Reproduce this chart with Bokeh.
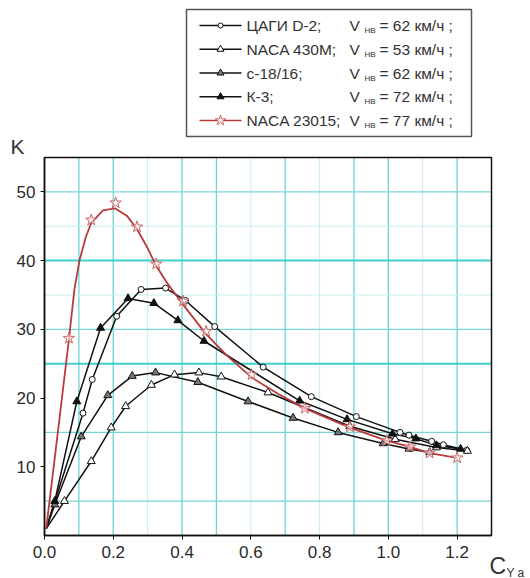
from bokeh.plotting import figure
from bokeh.models import Range1d, FixedTicker, NumeralTickFormatter
from bokeh.core.properties import value
from bokeh.embed import file_html
from bokeh.resources import INLINE

FONT = "Liberation Sans"

# ---------------- data ----------------
series_names = ["ЦАГИ D-2;", "NACA 430M;", "с-18/16;", "К-3;", "NACA 23015;"]
v_speeds = [62, 53, 62, 72, 77]

tsagi_x = [0.005, 0.112, 0.139, 0.21, 0.281, 0.352, 0.41, 0.495, 0.636, 0.776, 0.907, 1.034, 1.06, 1.126, 1.16, 1.228]
tsagi_y = [1.0, 17.8, 22.7, 31.9, 35.8, 36.0, 34.2, 30.4, 24.5, 20.2, 17.3, 15.0, 14.6, 13.7, 13.2, 12.4]

naca430_x = [0.005, 0.058, 0.136, 0.194, 0.236, 0.311, 0.378, 0.449, 0.514, 0.65, 0.888, 1.02, 1.14, 1.23]
naca430_y = [1.0, 5.0, 10.8, 15.7, 18.8, 21.9, 23.4, 23.7, 23.1, 20.8, 15.9, 14.0, 12.8, 12.3]

c18_x = [0.005, 0.03, 0.107, 0.184, 0.255, 0.323, 0.446, 0.592, 0.723, 0.854, 0.985, 1.06, 1.12]
c18_y = [1.0, 4.5, 14.4, 20.4, 23.2, 23.7, 22.3, 19.5, 17.1, 15.0, 13.4, 12.6, 12.1]

k3_x = [0.005, 0.03, 0.094, 0.163, 0.243, 0.318, 0.388, 0.464, 0.742, 0.88, 1.012, 1.08, 1.14, 1.21]
k3_y = [1.0, 5.0, 19.5, 30.2, 34.5, 33.8, 31.3, 28.3, 19.6, 16.9, 14.8, 14.1, 13.1, 12.6]

# NACA 23015: marker points and the traced smooth curve
naca23_x = [0.071, 0.136, 0.207, 0.269, 0.325, 0.403, 0.47, 0.602, 0.757, 0.888, 0.995, 1.063, 1.12, 1.2]
naca23_y = [28.7, 45.9, 48.4, 44.9, 39.5, 34.1, 29.7, 23.4, 18.5, 15.8, 13.8, 12.9, 12.0, 11.3]
naca23_curve_x = [0.005, 0.04, 0.071, 0.087, 0.102, 0.12, 0.136, 0.17, 0.205, 0.24, 0.269, 0.30, 0.325,
                  0.36, 0.403, 0.47, 0.53, 0.602, 0.68, 0.757, 0.888, 0.995, 1.063, 1.12, 1.2]
naca23_curve_y = [1.0, 15.5, 28.5, 35.8, 40.1, 43.4, 45.5, 47.3, 47.6, 46.5, 44.6, 41.8, 39.2,
                  36.5, 33.6, 29.3, 26.2, 23.0, 20.6, 18.5, 15.7, 13.8, 12.9, 12.0, 11.3]

x_min, x_max = 0.0, 1.3
y_min, y_max = 0.0, 55.0
x_ticks = [0.0, 0.2, 0.4, 0.6, 0.8, 1.0, 1.2]
y_ticks = [10, 20, 30, 40, 50]
xgrid_main = [0.1, 0.2, 0.4, 0.5, 0.7, 0.9, 1.0, 1.2]
xgrid_faint = [0.3, 0.6, 0.8, 1.1]
ygrid_bold = [25, 40]
ygrid_main = [5, 15, 30, 50]
ygrid_faint = [35, 45]

RED = "#b83a3a"
BLACK = "#111111"

styles = [
    ("circle", "white", BLACK, 6),
    ("triangle", "white", BLACK, 8),
    ("triangle", "#777777", BLACK, 8),
    ("triangle", BLACK, BLACK, 8),
    ("star", "#fff2f2", "#cc6666", 12),
]

# ---------------- layout geometry (pixels) ----------------
W, H = 530, 578
FL, FR, FT, FB = 44, 491, 157, 535       # chart box in the canvas
sx = (FR - FL) / (x_max - x_min)
sy = (FB - FT) / (y_max - y_min)
xr = Range1d(x_min - FL / sx, x_max + (W - FR) / sx)
yr = Range1d(y_min - (H - FB) / sy, y_max + FT / sy)

p = figure(width=W, height=H, output_backend="svg", toolbar_location=None,
           x_range=xr, y_range=yr, min_border=0, min_border_left=0, min_border_right=0,
           min_border_top=0, min_border_bottom=0)
p.outline_line_color = None
p.background_fill_color = "white"
p.border_fill_color = "white"
p.xgrid.visible = False
p.ygrid.visible = False
p.extra_x_ranges = {"px": Range1d(0, W)}
p.extra_y_ranges = {"px": Range1d(H, 0)}

# grid lines inside the chart box
for ticks, col, w in [(xgrid_faint, "#c8eeee", 1), (xgrid_main, "#6dd3d3", 1.3)]:
    p.segment(x0=ticks, y0=[y_min] * len(ticks), x1=ticks, y1=[y_max] * len(ticks), line_color=col, line_width=w)
for ticks, col, w in [(ygrid_faint, "#c8eeee", 1), (ygrid_main, "#7ad6d6", 1.3), (ygrid_bold, "#3fcfcf", 2)]:
    p.segment(x0=[x_min] * len(ticks), y0=ticks, x1=[x_max] * len(ticks), y1=ticks, line_color=col, line_width=w)

# chart box
p.quad(left=[x_min], right=[x_max], bottom=[y_min], top=[y_max], fill_color=None,
       line_color=BLACK, line_width=1.5)

# axes fixed at the chart box edges
p.xaxis.fixed_location = y_min
p.yaxis.fixed_location = x_min
p.xaxis.bounds = (x_min, x_max)
p.yaxis.bounds = (y_min, y_max)
for ax in (p.xaxis[0], p.yaxis[0]):
    ax.axis_line_color = BLACK
    ax.axis_line_width = 1.5
    ax.major_tick_line_color = BLACK
    ax.major_tick_out = 4
    ax.major_tick_in = 0
    ax.minor_tick_line_color = None
    ax.major_label_text_font = FONT
    ax.major_label_text_font_size = "17px"
    ax.major_label_text_color = "#2a2a2a"
p.xaxis.ticker = FixedTicker(ticks=x_ticks)
p.xaxis.formatter = NumeralTickFormatter(format="0.0")
p.xaxis.major_label_standoff = 6
p.yaxis.ticker = FixedTicker(ticks=y_ticks)
p.yaxis.major_label_standoff = 5

# series
black_series = [(tsagi_x, tsagi_y), (naca430_x, naca430_y), (c18_x, c18_y), (k3_x, k3_y)]
for xs, ys in black_series:
    p.line(xs, ys, line_color=BLACK, line_width=1.5)
for (xs, ys), (mk, fill, lc, sz) in zip(black_series, styles[:4]):
    p.scatter(xs[1:], ys[1:], marker=mk, size=sz, fill_color=fill, line_color=lc, line_width=1)

p.line(naca23_curve_x, naca23_curve_y, line_color=RED, line_width=1.8)
mk, fill, lc, sz = styles[4]
p.scatter(naca23_x, naca23_y, marker=mk, size=sz, fill_color=fill, fill_alpha=0.6, line_color=lc, line_width=1)

# ---------------- legend and axis titles (pixel coordinates) ----------------
PX = dict(x_range_name="px", y_range_name="px")
txt = dict(text_font=value(FONT), text_color="#333333", text_align="left")

p.quad(left=[186], right=[471], top=[9], bottom=[136], fill_color="white",
       line_color="#555555", line_width=1.5, **PX)

rows = [25 + 23.75 * i for i in range(len(series_names))]
for i, (name, v) in enumerate(zip(series_names, v_speeds)):
    y = rows[i]
    mk, fill, lc, sz = styles[i]
    col = RED if i == 4 else BLACK
    p.line([199, 241], [y, y], line_color=col, line_width=1.6, **PX)
    p.scatter([220], [y], marker=mk, size=sz - 1, fill_color=fill, line_color=lc, line_width=1, **PX)
    p.text([246], [y], text=[name], text_font_size="15.5px", text_baseline="middle", **txt, **PX)
    p.text([349], [y], text=["V"], text_font_size="15.5px", text_baseline="middle", **txt, **PX)
    p.text([364], [y + 5], text=["НВ"], text_font_size="8px", text_baseline="middle", **txt, **PX)
    p.text([379], [y], text=[f"= {v} км/ч ;"], text_font_size="15.5px", text_baseline="middle", **txt, **PX)

p.text([10], [146], text=["K"], text_font_size="21px", text_baseline="alphabetic", **txt, **PX)
p.text([489], [565], text=["C"], text_font_size="23px", text_baseline="alphabetic", **txt, **PX)
p.text([506], [572], text=["Y a"], text_font_size="12px", text_baseline="alphabetic", **txt, **PX)

open("out.html", "w").write(file_html(p, INLINE))
